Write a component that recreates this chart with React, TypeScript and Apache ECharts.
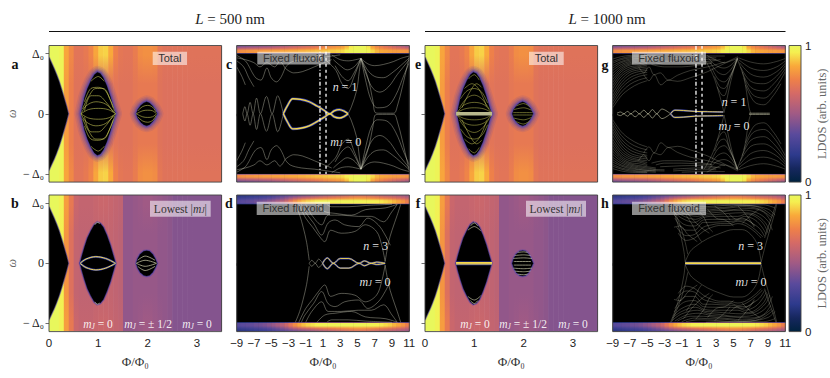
import React, { useEffect, useRef } from "react";
import * as echarts from "echarts";

type Pt = number[];
const SANS = "'Liberation Sans', Arial, sans-serif";
const SERIF = "'Liberation Serif', serif";
const Y = 1.135;

// Colour scale of the LDOS
const paletteStops = [0, 0.1, 0.2, 0.35, 0.5, 0.65, 0.75, 0.85, 0.95, 1];
const paletteColors = ["#00223f", "#16275e", "#2d3a8c", "#5a4a9c", "#a05a85", "#d56a66", "#ee8049", "#f9a93a", "#f5ef50", "#e8f75c"];

// Tick labels
const yTicks = [-1, 0, 1];
const fluxTicksLow = [0, 1, 2, 3];

// Background LDOS, columns of 0.1 flux quanta from 0 to 3.5
const totalEdge = [1,1,.98,.84,.77,.70,.70,.72,.76,.84,.90,.91,.85,.75,.71,.70,.70,.73,.78,.79,.79,.78,.71,.69,.69,.69,.69,.69,.69,.69,.69,.69,.69,.69,.69];
const totalMid = [1,1,.98,.82,.74,.69,.69,.69,.70,.70,.70,.70,.70,.70,.69,.69,.69,.71,.72,.72,.72,.72,.69,.68,.68,.68,.68,.68,.68,.68,.68,.68,.68,.68,.68];
const lowestEdge = [1,1,.97,.82,.72,.62,.60,.60,.60,.61,.62,.62,.61,.60,.59,.47,.47,.48,.49,.50,.50,.49,.48,.47,.46,.44,.44,.44,.44,.44,.44,.44,.44,.44,.44];
const lowestMid = [1,1,.96,.80,.68,.60,.59,.59,.59,.60,.60,.60,.60,.59,.58,.47,.47,.48,.48,.48,.48,.48,.47,.47,.46,.44,.44,.44,.44,.44,.44,.44,.44,.44,.44];

// Band LDOS above the gap, columns of 0.5 flux quanta from -9 to 11
const n1Outer = [.36,.37,.38,.39,.40,.41,.42,.43,.45,.47,.49,.51,.53,.55,.57,.59,.61,.63,.65,.68,.71,.73,.75,.77,.79,.85,.93,.98,.99,.98,.92,.80,.74,.70,.66,.62,.58,.54,.50,.46];
const n1Inner = [.78,.79,.80,.80,.81,.81,.82,.82,.83,.83,.84,.84,.85,.85,.86,.86,.87,.87,.88,.88,.89,.90,.90,.91,.92,.95,.98,.99,.99,.99,.97,.92,.87,.85,.84,.83,.82,.82,.81,.80];
const n3Outer = [.16,.17,.18,.19,.20,.21,.22,.24,.26,.28,.30,.32,.34,.36,.38,.40,.42,.44,.46,.48,.50,.52,.54,.56,.58,.60,.62,.64,.64,.64,.62,.60,.58,.56,.54,.53,.52,.50,.48,.46];
const n3Inner = [.34,.35,.36,.37,.39,.40,.42,.45,.48,.52,.56,.62,.70,.78,.84,.88,.91,.93,.95,.96,.97,.97,.97,.98,.98,.98,.98,.98,.98,.97,.97,.96,.95,.94,.92,.90,.87,.84,.80,.74];

// Gap outlines (upper half, flux, energy)
const gapStart: Pt[] = [[0,.93],[.05,.84],[.1,.75],[.15,.65],[.2,.54],[.25,.41],[.3,.27],[.35,.13],[.39,0]];
const lobeOneA: Pt[] = [[.65,0],[.68,.12],[.72,.27],[.78,.42],[.85,.55],[.92,.65],[.98,.69],[1.04,.67],[1.1,.6],[1.17,.47],[1.24,.3],[1.3,.13],[1.35,0]];
const lobeTwoA: Pt[] = [[1.77,0],[1.8,.07],[1.86,.14],[1.92,.18],[1.98,.2],[2.04,.18],[2.1,.13],[2.15,.07],[2.19,0]];
const lobeOneB: Pt[] = [[.63,0],[.67,.13],[.72,.27],[.78,.42],[.85,.54],[.92,.64],[.98,.68],[1.04,.66],[1.1,.6],[1.17,.47],[1.24,.31],[1.3,.14],[1.35,0]];
const lobeTwoB: Pt[] = [[1.77,0],[1.8,.08],[1.85,.15],[1.92,.2],[1.98,.21],[2.04,.2],[2.1,.15],[2.15,.08],[2.19,0]];

// Sub-gap states (upper half, flux, energy)
const linesA: Pt[][] = [
  [[.65,0],[.8,.07],[1,.09],[1.2,.07],[1.35,0]],
  [[.65,0],[.75,.13],[.95,.2],[1.15,.16],[1.35,0]],
  [[.68,.08],[.8,.28],[.95,.42],[1.1,.42],[1.25,.22],[1.33,.04]],
  [[.72,.2],[.85,.42],[1,.44],[1.15,.38],[1.3,.1]],
  [[.72,.05],[.85,.3],[1,.3],[1.15,.2],[1.3,.03]],
  [[.85,.54],[1,.62],[1.12,.54]],
  [[1.77,0],[1.9,.05],[2,.06],[2.1,.05],[2.18,0]],
  [[1.8,.05],[1.9,.12],[2,.14],[2.1,.11],[2.17,.03]],
];
const linesBBright: Pt[][] = [[[.63,0],[.75,.07],[.95,.11],[1.15,.08],[1.35,0]]];
const linesBThin: Pt[][] = [
  [[.93,.64],[.98,.68],[1.03,.66]],
  [[1.77,0],[1.95,.05],[2.18,0]],
  [[1.8,.05],[1.95,.12],[2.15,.05]],
];
const linesEBand: Pt[][] = [[[.63,.012],[1.36,.012]]];
const linesE: Pt[][] = [
  [[.65,.02],[.8,.08],[1,.1],[1.2,.08],[1.35,.02]],
  [[.66,.03],[.8,.15],[1,.19],[1.2,.15],[1.34,.03]],
  [[.7,.1],[.85,.26],[1,.31],[1.15,.25],[1.3,.08]],
  [[.72,.25],[.85,.38],[1,.42],[1.15,.36],[1.27,.18]],
  [[.75,.1],[.9,.35],[1.05,.5],[1.15,.44]],
  [[.8,.42],[.95,.5],[1.1,.4],[1.25,.12]],
  [[.88,.58],[1,.65],[1.1,.56]],
  [[1.79,.02],[2.18,.02]],
  [[1.8,.07],[2,.1],[2.16,.06]],
  [[1.85,.13],[2,.17],[2.12,.12]],
];
const linesFBright: Pt[][] = [[[.63,.01],[1.36,.01]]];
const linesFThin: Pt[][] = [
  [[.87,.55],[1,.61],[1.13,.54]],
  [[.92,.62],[1,.67],[1.07,.62]],
  [[1.8,.03],[2.15,.03]],
  [[1.79,.08],[2,.09],[2.17,.08]],
  [[1.82,.13],[2,.14],[2.14,.13]],
  [[1.88,.18],[2,.19],[2.08,.18]],
];
const linesCBright: Pt[][] = [[[-3.6,0],[-3.1,.14],[-2.5,.25],[-1.6,.24],[-.6,.2],[.3,.13],[1.1,.06],[1.8,0],[2.3,.05],[2.9,.07],[3.5,.04],[3.9,0]]];
const linesCThin: Pt[][] = [
  [[-8.3,0],[-8.05,.12],[-7.8,0],[-7.45,.19],[-7.1,0],[-6.7,.26],[-6.25,0],[-5.55,.29],[-4.9,0],[-4.25,.3],[-3.6,0]],
  [[3.9,0],[4.3,.12],[4.9,.39],[5.2,.7],[5.4,.92]],
  [[5.4,.92],[6.2,.6],[6.8,.2],[7,.03],[7.4,.01],[9.2,.01],[9.6,.12],[10.2,.45],[11,.95]],
  [[5.4,.92],[6.2,.83],[7,.8],[8,.82],[9.2,.87],[10,.92],[11,.96]],
  [[5.4,.92],[6.2,.72],[7,.62],[8,.6],[9,.68],[10,.8],[11,.93]],
  [[5.4,.92],[6.1,.62],[6.8,.42],[7.6,.36],[8.6,.45],[9.6,.65],[11,.9]],
  [[5.4,.92],[6,.52],[6.6,.22],[7.3,.1],[8.4,.12],[9.4,.3],[10.4,.65],[11,.85]],
  [[2,.98],[3,.9],[4,.88],[4.8,.9],[5.4,.92]],
  [[2.2,.9],[3,.8],[3.8,.73],[4.6,.78],[5.4,.92]],
  [[2.4,.8],[3.2,.62],[3.9,.55],[4.6,.68],[5.4,.92]],
  [[1.5,.87],[2.5,.72],[3.2,.5],[3.9,.42],[4.6,.62],[5.4,.92]],
  [[-3.4,.76],[-2.4,.68],[-1.4,.7],[0,.78],[1,.84],[2,.9]],
  [[-3.4,.76],[-2.8,.85],[-1.5,.9],[0,.92],[1.5,.95],[3,.98]],
  [[-9,.93],[-8,.9],[-7,.85],[-6.3,.78],[-5.5,.85],[-4.6,.78],[-4,.87],[-3.4,.76]],
  [[-7.4,.74],[-6.8,.6],[-6.2,.56],[-5.5,.76],[-5,.6],[-4.4,.53],[-3.9,.6],[-3.4,.76]],
  [[-9,.97],[-8,.88],[-7.4,.74]],
  [[-9,.88],[-8.2,.78],[-7.6,.6],[-7,.45]],
  [[-9,.78],[-8.4,.62],[-8,.48]],
];
const linesDBright: Pt[][] = [[[.95,0],[1.5,.09],[2.2,0],[3,.08],[4,.08],[5.2,0],[5.8,.04],[6.6,0],[7.2,.02],[8.2,0]]];
const linesDThin: Pt[][] = [
  [[-.6,0],[-.3,.05],[.1,0],[.5,.07],[.95,0]],
  [[-2.2,.98],[-1.7,.8],[-1.3,.6],[-.9,.35],[-.6,.05]],
  [[10,.98],[9.6,.8],[9,.55],[8.6,.35],[8.2,.03]],
  [[-1.8,.98],[-1,.75],[-.2,.6],[.47,.47],[1.2,.36],[1.9,.55],[3.1,.5],[4.7,.53],[5.9,.64],[7.2,.53],[7.8,.3],[8.2,.03]],
  [[-1.5,.98],[-1.1,.86],[-.1,.67],[.85,.47],[1.6,.67],[2.4,.72],[3.5,.64],[5.1,.61],[6.2,.75],[7.4,.64],[8.2,.47],[8.8,.3]],
  [[-1,.98],[-.3,.8],[.85,.64],[1.6,.8],[3.1,.8],[5.1,.78],[6.6,.78],[8,.69],[9,.86],[9.6,.98]],
  [[.3,.98],[1.2,.86],[2.4,.83],[4.3,.8],[5.9,.89],[8.2,.92],[9.6,.98]],
  [[1.5,.97],[2,.94],[3.9,.94],[5.9,.96],[9,.98]],
];
const linesGBright: Pt[][] = [[[-2.3,0],[-1.8,.06],[-.8,.055],[.5,.04],[2,.035],[3.8,.03]]];
const linesGOsc: Pt[][] = [
  [[-8.5,.01],[-8.1,.03],[-7.7,0],[-7.3,.04],[-6.9,0],[-6.4,.05],[-5.9,0],[-5.4,.06],[-4.9,0],[-4.4,.07],[-3.9,0],[-3.3,.08],[-2.3,0]],
  [[6.8,.01],[9.2,.01]],
];
const linesGThin: Pt[][] = [
  [[-9,.1],[-8,.3],[-7,.42],[-6,.5],[-5,.55]],
  [[-9,.15],[-8,.36],[-7,.49],[-6,.56],[-5,.6]],
  [[-9,.2],[-8,.42],[-7,.55],[-6,.62],[-5,.65]],
  [[-9,.25],[-8,.47],[-7,.6],[-6,.66],[-5,.69]],
  [[-9,.3],[-8,.52],[-7,.65],[-6,.7],[-5,.72]],
  [[-9,.36],[-8,.57],[-7,.69],[-6,.73],[-5,.75]],
  [[-9,.42],[-8,.62],[-7,.72],[-6,.76],[-5,.78]],
  [[-9,.47],[-8,.66],[-7,.75],[-6,.78],[-5,.81]],
  [[-9,.52],[-8,.7],[-7,.78],[-6,.8],[-5,.84]],
  [[-9,.57],[-8,.73],[-7,.81],[-6,.83],[-5,.86]],
  [[-9,.62],[-8,.76],[-7,.83],[-6,.86],[-5,.88],[-4,.9]],
  [[-9,.67],[-8,.79],[-7,.85],[-6,.88],[-5,.9],[-4,.92]],
  [[-9,.72],[-8,.82],[-7,.87],[-6,.9],[-5,.92],[-3,.93]],
  [[-9,.76],[-8,.85],[-7,.89],[-6,.92],[-5,.94],[-3,.95]],
  [[-9,.8],[-8,.87],[-7,.91],[-6,.93],[-4,.95]],
  [[-9,.84],[-8,.9],[-7,.93],[-6,.95],[-4,.97]],
  [[-9,.87],[-8,.92],[-7,.95],[-5,.97]],
  [[-9,.91],[-8,.95],[-7,.97],[-5,.98]],
  [[-6,.78],[-5.4,.68],[-4.8,.78],[-4.2,.65],[-3.5,.68],[-2.55,.56],[-1.5,.64],[0,.72],[2,.78],[4,.86]],
  [[-5.4,.65],[-4.8,.55],[-4.2,.65],[-3.4,.48],[-2.55,.56],[-1.5,.54],[0,.6],[2,.7],[4,.84],[5.5,.92]],
  [[-4.5,.82],[-3,.78],[-1,.78],[.5,.8],[2.5,.84]],
  [[-4,.85],[-3,.82],[-1,.82],[.5,.83],[2.5,.85]],
  [[-3.5,.88],[-2,.87],[0,.86],[2,.87],[3.5,.9]],
  [[-2,.92],[1,.9],[3,.9]],
  [[-2,.95],[1,.93],[3,.93]],
  [[-1,.97],[2,.96],[4,.96]],
  [[1.9,.97],[2.9,.9],[3.9,.85],[4.8,.9],[5.5,.95]],
  [[2.1,.92],[3,.8],[3.9,.76],[4.8,.82],[5.5,.94]],
  [[2.3,.85],[3.1,.7],[3.9,.65],[4.7,.74],[5.5,.93]],
  [[2.5,.76],[3.2,.58],[3.9,.53],[4.7,.66],[5.5,.92]],
  [[2.8,.62],[3.4,.45],[3.9,.42],[4.6,.6],[5.5,.92]],
  [[3.1,.45],[3.6,.32],[3.9,.3],[4.5,.55],[5.4,.9]],
  [[5.4,.92],[4.7,.55],[4.1,.15],[3.9,.02]],
  [[5.4,.92],[6.2,.6],[6.8,.1],[7,.01]],
  [[1.6,.92],[2.6,.65],[3.4,.3],[3.9,.02]],
  [[5.6,.93],[7,.86],[8.5,.83],[10,.87],[11,.92]],
  [[5.6,.9],[7,.76],[8.5,.72],[10,.78],[11,.88]],
  [[5.7,.85],[7,.66],[8.5,.61],[10,.7],[11,.84]],
  [[5.8,.78],[7,.54],[8.5,.5],[9.8,.6],[11,.8]],
  [[6,.7],[7,.44],[8.5,.38],[9.8,.52],[11,.75]],
  [[6.2,.6],[7.2,.32],[8.5,.26],[9.8,.42],[11,.7]],
  [[6.4,.48],[7.4,.2],[8.5,.15],[9.6,.3],[10.5,.5]],
];
const linesHBright: Pt[][] = [[[-.6,.005],[8.2,.005]]];
const linesHThin: Pt[][] = [
  [[-.6,.02],[0,.2],[.8,.3],[2,.41],[3.5,.5],[5,.56],[6,.56],[7,.48],[7.8,.3],[8.2,.02]],
  [[-1.4,.5],[-.5,.38],[.5,.42],[1.5,.53],[2.5,.6],[3.5,.63],[4.5,.63],[5.5,.66],[6.5,.62],[7.5,.52],[8.2,.42]],
  [[-1.6,.6],[-.5,.46],[.5,.48],[1.5,.6],[2.5,.64],[3.5,.66],[4.5,.66],[5.5,.7],[6.5,.66],[7.5,.56],[8.4,.44]],
  [[-1.8,.75],[-.5,.55],[.5,.55],[1.5,.68],[2.5,.68],[3.5,.69],[5,.7],[6,.75],[7,.68],[8,.58],[8.6,.45]],
  [[-1.9,.81],[-.8,.65],[.5,.62],[1.5,.72],[2.6,.73],[4,.73],[5.5,.74],[6.3,.78],[7.5,.72],[8.3,.6],[8.8,.48]],
  [[-2,.87],[-1,.75],[.5,.68],[1.5,.76],[2.6,.78],[4,.78],[5.5,.78],[6.5,.82],[7.5,.78],[8.5,.65],[9,.5]],
  [[-2.1,.91],[-1,.8],[.6,.73],[1.8,.8],[3,.81],[4.5,.83],[6,.84],[7.5,.81],[8.7,.67],[9.2,.53]],
  [[-2.1,.95],[-1,.84],[.8,.78],[2,.83],[3.5,.85],[5,.88],[6.5,.88],[8,.82],[9,.7],[9.5,.55]],
  [[-1.8,.96],[-.5,.86],[1,.83],[2.5,.87],[4,.88],[5.5,.9],[7,.91],[8.5,.85],[9.3,.7]],
  [[-1.5,.96],[0,.88],[1.5,.88],[3,.9],[4.5,.92],[6,.94],[8,.9],[9.4,.76]],
  [[-1,.97],[.5,.91],[2,.92],[4,.93],[6,.96],[8,.93],[9.6,.78]],
  [[-.5,.97],[1,.94],[3,.95],[5,.97],[7,.96],[9,.9],[9.8,.8]],
  [[1.8,.98],[3.5,.97],[8.5,.97],[9.8,.92]],
  [[-2.3,.98],[-1.6,.72],[-1.1,.45],[-.75,.2],[-.6,.02]],
  [[-2.2,.98],[-1.5,.75],[-1,.55],[-.6,.35],[-.3,.15]],
  [[10,.98],[9.7,.8],[9.2,.55],[8.7,.3],[8.2,.02]],
  [[9.9,.98],[9.5,.8],[9,.6],[8.6,.42]],
  [[-.5,.8],[.3,.62],[1,.42],[1.3,.36]],
  [[.6,.93],[1.5,.78],[2.2,.58],[2.6,.52]],
  [[2.8,.95],[3.8,.85],[4.6,.72]],
  [[5.5,.95],[6.2,.85],[7,.7],[7.4,.6]],
  [[6,.66],[7,.8],[8,.9]],
  [[-1.9,.6],[-1.2,.62],[-.3,.48],[.8,.36]],
  [[-.8,.92],[.2,.74],[1.2,.6],[2.2,.5]],
  [[2,.9],[3,.75],[4,.72],[5,.62]],
  [[4.5,.82],[5.5,.72],[6.5,.72],[7.5,.62]],
];

const mix = (a: string, b: string, t: number) => {
  const p = (c: string, i: number) => parseInt(c.substr(1 + 2 * i, 2), 16);
  return `rgb(${[0, 1, 2].map((i) => Math.round(p(a, i) + (p(b, i) - p(a, i)) * t)).join(",")})`;
};
const colorOf = (v: number) => {
  for (let i = 1; i < paletteStops.length; i++) {
    if (v <= paletteStops[i]) {
      return mix(paletteColors[i - 1], paletteColors[i], (v - paletteStops[i - 1]) / (paletteStops[i] - paletteStops[i - 1]));
    }
  }
  return paletteColors[paletteColors.length - 1];
};

const columnSeries = (gi: number, from: number, step: number, outer: number[], inner: number[], edge: number | null) => ({
  type: "custom",
  xAxisIndex: gi,
  yAxisIndex: gi,
  silent: true,
  clip: true,
  z: 1,
  data: outer.map((v, i) => [from + i * step, from + (i + 1) * step, v, inner[i]]),
  renderItem: (_: any, api: any) => {
    const a = api.coord([api.value(0), Y]);
    const b = api.coord([api.value(1), -Y]);
    const t = api.value(2);
    const m = api.value(3);
    let stops: any[];
    if (edge === null) {
      const f0 = 0.07;
      const f = (Y - 0.5) / (2 * Y);
      stops = [[0, t], [f0, t], [f, m], [1 - f, m], [1 - f0, t], [1, t]].map(([o, v]) => ({ offset: o, color: colorOf(v) }));
    } else {
      const e = (Y - edge) / (2 * Y);
      const half = (t + m) / 2;
      stops = [
        { offset: 0, color: colorOf(t) },
        { offset: e * 0.35, color: colorOf(half) },
        { offset: e * 0.62, color: colorOf(m) },
        { offset: e * 0.88, color: colorOf(m) },
        { offset: e * 0.96, color: colorOf(m * 0.55) },
        { offset: e, color: "#101a44" },
        { offset: e + 0.004, color: "#000000" },
        { offset: 1 - e - 0.004, color: "#000000" },
        { offset: 1 - e, color: "#101a44" },
        { offset: 1 - e * 0.96, color: colorOf(m * 0.55) },
        { offset: 1 - e * 0.88, color: colorOf(m) },
        { offset: 1 - e * 0.62, color: colorOf(m) },
        { offset: 1 - e * 0.35, color: colorOf(half) },
        { offset: 1, color: colorOf(t) },
      ];
    }
    return {
      type: "rect",
      shape: { x: a[0], y: a[1], width: b[0] - a[0] + 0.6, height: b[1] - a[1] },
      style: { fill: new echarts.graphic.LinearGradient(0, 0, 0, 1, stops) },
    };
  },
});

const blackFill = (gi: number, from: number, to: number) => ({
  type: "custom",
  xAxisIndex: gi,
  yAxisIndex: gi,
  silent: true,
  z: 1,
  data: [[from, to]],
  renderItem: (_: any, api: any) => {
    const a = api.coord([from, Y]);
    const b = api.coord([to, -Y]);
    return { type: "rect", shape: { x: a[0], y: a[1], width: b[0] - a[0], height: b[1] - a[1] }, style: { fill: "#000" } };
  },
});

const outline = (upper: Pt[]) => [...upper, ...upper.slice().reverse().map(([x, y]) => [x, -y]).slice(1)];

const lobeLayer = (gi: number, upper: Pt[], style: any) => {
  const pts = outline(upper);
  return {
    type: "custom",
    xAxisIndex: gi,
    yAxisIndex: gi,
    silent: true,
    clip: true,
    z: 2,
    data: [[upper[0][0], 0]],
    renderItem: (_: any, api: any) => ({
      type: "polygon",
      shape: { points: pts.map((p) => api.coord(p)) },
      style,
    }),
  };
};

// soft halo, then the black gap on top
const lobe = (gi: number, upper: Pt[], halo: number[][]) => [
  ...halo.map(([w, o]) => lobeLayer(gi, upper, { fill: "none", stroke: `rgba(80,66,168,${o})`, lineWidth: w, lineJoin: "round" })),
  lobeLayer(gi, upper, { fill: "#000", stroke: "#000", lineWidth: 0.3 }),
];

const lineSeries = (gi: number, lines: Pt[][], color: string, width: number, z: number, smooth: number | boolean = 0.35) =>
  lines.flatMap((l) =>
    [l, l.map(([x, y]) => [x, -y])].map((data) => ({
      type: "line",
      xAxisIndex: gi,
      yAxisIndex: gi,
      data,
      smooth,
      symbol: "none",
      silent: true,
      z,
      clip: true,
      lineStyle: { color, width },
    })),
  );

const brightLines = (gi: number, lines: Pt[][], w = 1, halo = 1.4) => [
  ...lineSeries(gi, lines, "#3541ae", w + halo, 4),
  ...lineSeries(gi, lines, "#f6d94a", w, 5),
];

const THIN = "rgba(222,222,200,0.58)";
const DIM = "rgba(214,214,190,0.5)";
const YEL = "rgba(214,214,92,0.85)";

const wideHalo = [[13, 0.12], [10, 0.16], [7, 0.24], [4.5, 0.4], [2.4, 0.7]];
const thinHalo = [[3, 0.35], [1.6, 0.85]];
const startHalo = [[2.4, 0.4], [1.2, 0.8]];

const fluxMarks = (gi: number) => [
  {
    type: "line", xAxisIndex: gi, yAxisIndex: gi, symbol: "none", silent: true, z: 8,
    data: [[0.65, 1.13], [0.65, -1.0]], lineStyle: { color: "#fff", width: 1.3, type: [4, 2, 1, 2] },
  },
  {
    type: "line", xAxisIndex: gi, yAxisIndex: gi, symbol: "none", silent: true, z: 8,
    data: [[1.35, 1.13], [1.35, -1.0]], lineStyle: { color: "#fff", width: 1.3, type: [3, 3] },
  },
];

const panelBoxes = [
  { l: 49, t: 45.5 }, { l: 49, t: 195 }, { l: 236.7, t: 45.5 }, { l: 236.7, t: 195 },
  { l: 425, t: 45.5 }, { l: 425, t: 195 }, { l: 612.7, t: 45.5 }, { l: 612.7, t: 195 },
];
const PW = 172.6;
const PH = 136.6;
const phaseKind = [0, 0, 1, 1, 0, 0, 1, 1];

const buildOption = () => {
  const grids: any[] = panelBoxes.map((p) => ({ left: p.l, top: p.t, width: PW, height: PH }));
  grids.push({ left: 789, top: 45.5, width: 12, height: PH }, { left: 789, top: 195, width: 12, height: PH });

  const xAxis: any[] = panelBoxes.map((_, i) => {
    const bottom = i % 2 === 1;
    const low = phaseKind[i] === 0;
    return {
      gridIndex: i,
      type: "value",
      min: low ? 0 : -9,
      max: low ? 3.5 : 11,
      interval: 1,
      splitLine: { show: false },
      axisLine: { show: false },
      axisTick: { show: true, length: low ? 3.5 : 2.5, lineStyle: { color: "#333", width: 0.7 } },
      axisLabel: {
        show: bottom,
        fontFamily: SANS,
        fontSize: 11.5,
        color: "#222",
        margin: 5,
        hideOverlap: false,
        formatter: (v: number) => {
          if (low) return fluxTicksLow.includes(v) ? String(v) : "";
          return Math.abs(v % 2) === 1 ? String(v).replace("-", "\u2212") : "";
        },
      },
      name: bottom ? "\u03a6/\u03a6\u2080" : "",
      nameLocation: "middle",
      nameGap: 23,
      nameTextStyle: { fontFamily: SERIF, fontSize: 13, color: "#333" },
    };
  });
  xAxis.push(
    { gridIndex: 8, type: "value", min: 0, max: 1, show: false },
    { gridIndex: 9, type: "value", min: 0, max: 1, show: false },
  );

  const yAxis: any[] = panelBoxes.map((_, i) => {
    const labelled = i < 2;
    return {
      gridIndex: i,
      type: "value",
      min: -Y,
      max: Y,
      splitLine: { show: false },
      axisLine: { show: false },
      axisTick: { show: true, length: 3.5, customValues: yTicks, lineStyle: { color: "#333", width: 0.7 } },
      axisLabel: {
        show: labelled,
        customValues: yTicks,
        fontFamily: SERIF,
        fontSize: 12,
        color: "#222",
        margin: 5,
        formatter: (v: number) => (v === 0 ? "0" : v > 0 ? "\u0394\u2080" : "\u2212 \u0394\u2080"),
      },
      name: labelled ? "\u03c9" : "",
      nameLocation: "middle",
      nameRotate: 90,
      nameGap: 26,
      nameTextStyle: { fontFamily: SERIF, fontStyle: "italic", fontSize: 12, color: "#666" },
    };
  });
  [8, 9].forEach((g) =>
    yAxis.push({
      gridIndex: g,
      type: "value",
      position: "right",
      min: 0,
      max: 1,
      interval: 1,
      splitLine: { show: false },
      axisLine: { show: false },
      axisTick: { show: false },
      axisLabel: { fontFamily: SANS, fontSize: 11.5, color: "#222", margin: 4 },
      name: "LDOS (arb. units)",
      nameLocation: "middle",
      nameRotate: 90,
      nameGap: 11,
      nameTextStyle: { fontFamily: SERIF, fontSize: 12.5, color: "#666" },
    }),
  );

  const colorBar = (g: number) => ({
    type: "custom",
    xAxisIndex: g,
    yAxisIndex: g,
    silent: true,
    data: [[0, 0]],
    renderItem: (_: any, api: any) => {
      const a = api.coord([0, 1]);
      const b = api.coord([1, 0]);
      return {
        type: "rect",
        shape: { x: a[0], y: a[1], width: b[0] - a[0], height: b[1] - a[1] },
        style: {
          fill: new echarts.graphic.LinearGradient(
            0, 1, 0, 0,
            paletteStops.map((o, i) => ({ offset: o, color: paletteColors[i] })),
          ),
        },
      };
    },
  });

  const lobeSet = (gi: number, one: Pt[], two: Pt[], halo: number[][]) => [
    ...lobe(gi, gapStart, startHalo),
    ...lobe(gi, one, halo),
    ...lobe(gi, two, halo),
  ];

  const series: any[] = [
    // a
    columnSeries(0, 0, 0.1, totalEdge, totalMid, null),
    ...lobeSet(0, lobeOneA, lobeTwoA, wideHalo),
    ...lineSeries(0, linesA, YEL, 0.65, 4),
    // b
    columnSeries(1, 0, 0.1, lowestEdge, lowestMid, null),
    ...lobeSet(1, lobeOneB, lobeTwoB, thinHalo),
    ...brightLines(1, linesBBright, 1, 1),
    ...lineSeries(1, linesBThin, "#d6d6b0", 0.7, 4),
    // c
    blackFill(2, -9, 11),
    columnSeries(2, -9, 0.5, n1Outer, n1Inner, 1.0),
    ...lineSeries(2, linesCThin, THIN, 0.65, 3),
    ...brightLines(2, linesCBright, 1.3, 1.3),
    ...fluxMarks(2),
    // d
    blackFill(3, -9, 11),
    columnSeries(3, -9, 0.5, n3Outer, n3Inner, 0.98),
    ...lineSeries(3, linesDThin, THIN, 0.65, 3),
    ...brightLines(3, linesDBright, 0.9, 1),
    // e
    columnSeries(4, 0, 0.1, totalEdge, totalMid, null),
    ...lobeSet(4, lobeOneA, lobeTwoA, wideHalo),
    ...lineSeries(4, linesEBand, "#b9b98e", 2, 4, false),
    ...lineSeries(4, linesE, YEL, 0.55, 4),
    // f
    columnSeries(5, 0, 0.1, lowestEdge, lowestMid, null),
    ...lobeSet(5, lobeOneB, lobeTwoB, thinHalo),
    ...brightLines(5, linesFBright, 1.4, 1.2),
    ...lineSeries(5, linesFThin, "#c8c8a8", 0.7, 4),
    // g
    blackFill(6, -9, 11),
    columnSeries(6, -9, 0.5, n1Outer, n1Inner, 1.0),
    ...lineSeries(6, linesGThin, DIM, 0.5, 3),
    ...lineSeries(6, linesGOsc, "rgba(230,230,196,0.8)", 0.65, 3),
    ...brightLines(6, linesGBright, 0.9, 0.9),
    ...fluxMarks(6),
    // h
    blackFill(7, -9, 11),
    columnSeries(7, -9, 0.5, n3Outer, n3Inner, 0.98),
    ...lineSeries(7, linesHThin, DIM, 0.5, 3),
    ...brightLines(7, linesHBright, 1.3, 1),
    colorBar(8),
    colorBar(9),
  ];

  const graphic: any[] = [];
  const Z = 100;
  const frame = (l: number, t: number, w: number, h: number) =>
    graphic.push({ type: "rect", z: 60, silent: true, shape: { x: l, y: t, width: w, height: h }, style: { fill: "transparent", stroke: "#444", lineWidth: 0.9 } });
  panelBoxes.forEach((p) => frame(p.l, p.t, PW, PH));
  frame(789, 45.5, 12, PH);
  frame(789, 195, 12, PH);

  const box = (l: number, t: number, r: number, b: number, text: string, serif = false) => {
    graphic.push({ type: "rect", z: Z, silent: true, shape: { x: l, y: t, width: r - l, height: b - t }, style: { fill: "rgba(255,255,255,0.55)" } });
    graphic.push({
      type: "text", z: Z + 1, silent: true, x: (l + r) / 2, y: (t + b) / 2,
      style: serif
        ? { text, align: "center", verticalAlign: "middle", fill: "#333", fontFamily: SERIF, fontSize: 11.5, rich: { i: { fontStyle: "italic", fontFamily: SERIF, fontSize: 11.5, fill: "#333" }, s: { fontStyle: "italic", fontFamily: SERIF, fontSize: 7.5, fill: "#333", verticalAlign: "bottom" } } }
        : { text, align: "center", verticalAlign: "middle", fill: "#333", fontFamily: SANS, fontSize: 11 },
    });
  };
  box(152.7, 51.7, 187, 65, "Total");
  box(529, 51.7, 563.7, 65, "Total");
  box(257.3, 51.7, 330.3, 64.4, "Fixed fluxoid");
  box(632, 51.7, 706, 64.4, "Fixed fluxoid");
  box(256.7, 201.7, 330, 215, "Fixed fluxoid");
  box(632, 201.7, 706, 215, "Fixed fluxoid");
  box(150, 200.7, 210.7, 216.7, "Lowest |{i|m}{s|J}|", true);
  box(526, 200.7, 586, 216.7, "Lowest |{i|m}{s|J}|", true);

  const math = (x: number, y: number, text: string, size = 12) =>
    graphic.push({
      type: "text", z: Z + 1, silent: true, x, y,
      style: {
        text, align: "center", verticalAlign: "middle", fill: "rgba(255,255,255,0.9)", fontFamily: SERIF, fontSize: size,
        rich: {
          i: { fontStyle: "italic", fontFamily: SERIF, fontSize: size, fill: "rgba(255,255,255,0.9)" },
          s: { fontStyle: "italic", fontFamily: SERIF, fontSize: size - 4, fill: "rgba(255,255,255,0.9)", verticalAlign: "bottom" },
          t: { fontFamily: SERIF, fontSize: size, fill: "rgba(255,255,255,0.9)" },
        },
      },
    });
  const nLabel = (k: number) => `{i|n}{t| = ${k}}`;
  const mZero = "{i|m}{s|J}{t| = 0}";
  const mHalf = "{i|m}{s|J}{t| = \u00b1 1/2}";
  math(345, 87, nLabel(1));
  math(345.7, 141.7, mZero);
  math(375.7, 245.7, nLabel(3));
  math(375, 281.7, mZero);
  math(734, 101.7, nLabel(1));
  math(734, 126, mZero);
  math(750.7, 245.7, nLabel(3));
  math(751, 281.7, mZero);
  [[98, mZero], [148, mHalf], [197, mZero], [475, mZero], [523, mHalf], [573, mZero]].forEach(([x, t]) => math(x as number, 324, t as string, 11.5));

  const letter = (x: number, y: number, t: string) =>
    graphic.push({ type: "text", z: Z, silent: true, x, y, style: { text: t, align: "center", verticalAlign: "middle", fill: "#111", fontFamily: SERIF, fontWeight: "bold", fontSize: 14 } });
  letter(15, 64, "a"); letter(15, 203, "b"); letter(229, 64, "c"); letter(229, 203, "d");
  letter(418, 64, "e"); letter(418, 203, "f"); letter(605, 65, "g"); letter(605, 203, "h");

  const title = (x: number, t: string) =>
    graphic.push({
      type: "text", z: Z, silent: true, x, y: 19,
      style: {
        text: `{i|L}{t| = ${t} nm}`, align: "center", verticalAlign: "middle", fontFamily: SERIF, fontSize: 15,
        rich: { i: { fontStyle: "italic", fontFamily: SERIF, fontSize: 15, fill: "#222" }, t: { fontFamily: SERIF, fontSize: 15, fill: "#222" } },
      },
    });
  title(230, "500");
  title(607, "1000");
  graphic.push({ type: "line", z: Z, silent: true, shape: { x1: 49, y1: 31.5, x2: 410, y2: 31.5 }, style: { stroke: "#111", lineWidth: 1 } });
  graphic.push({ type: "line", z: Z, silent: true, shape: { x1: 425, y1: 31.5, x2: 785.5, y2: 31.5 }, style: { stroke: "#111", lineWidth: 1 } });

  return { animation: false, backgroundColor: "#fff", grid: grids, xAxis, yAxis, series, graphic };
};

export default function App() {
  const ref = useRef<HTMLDivElement>(null);
  useEffect(() => {
    if (!ref.current) return;
    const chart = echarts.init(ref.current, undefined, { renderer: "svg" });
    chart.setOption(buildOption() as any);
    return () => chart.dispose();
  }, []);
  return <div ref={ref} style={{ position: "fixed", left: 0, top: 0, width: 830, height: 378, background: "#fff" }} />;
}
